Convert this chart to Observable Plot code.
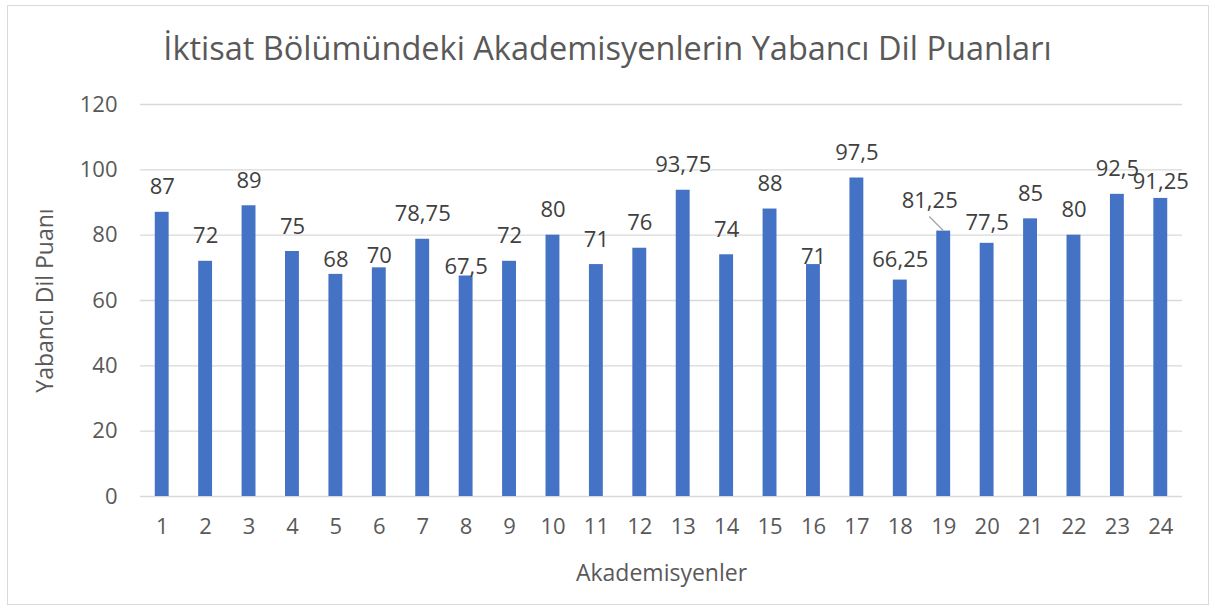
<!DOCTYPE html>
<html>
<head>
<meta charset="utf-8">
<script src="https://cdn.jsdelivr.net/npm/d3@7"></script>
<script src="https://cdn.jsdelivr.net/npm/@observablehq/plot@0.6"></script>
<style>
  body { margin: 0; background: #fff; font-family: "Open Sans", sans-serif; }
  #frame { position: absolute; left: 7px; top: 5px; width: 1202px; height: 600px; border: 1px solid #d9d9d9; box-sizing: border-box; }
  #title { position: absolute; left: 0; top: 26px; width: 1215px; text-align: center; font-size: 32.5px; line-height: 44px; color: #595959; }
  #chart { position: absolute; left: 0; top: 76px; }
</style>
</head>
<body>
<div id="frame"></div>
<div id="title">İktisat Bölümündeki Akademisyenlerin Yabancı Dil Puanları</div>
<div id="chart"></div>
<script>
const academics = ["1","2","3","4","5","6","7","8","9","10","11","12","13","14","15","16","17","18","19","20","21","22","23","24"];
const scores = [87, 72, 89, 75, 68, 70, 78.75, 67.5, 72, 80, 71, 76, 93.75, 74, 88, 71, 97.5, 66.25, 81.25, 77.5, 85, 80, 92.5, 91.25];
const yTicks = [0, 20, 40, 60, 80, 100, 120];

const data = academics.map((a, i) => ({a, v: scores[i], label: String(scores[i]).replace(".", ",")}));

// label placement (as Excel auto-arranged them): pixel gap between label centre and bar top
const defaultGap = 25;
const gapFor = {"5": 14, "6": 12, "8": 9, "16": 8, "18": 20, "19": 30, "20": 20, "24": 16};
const dxFor = {"19": -14};
const groups = d3.groups(data, d => `${gapFor[d.a] ?? defaultGap}|${dxFor[d.a] ?? 0}`);
const labelMarks = groups.map(([key, rows]) => {
  const [gap, dx] = key.split("|").map(Number);
  return Plot.text(rows, {x: "a", y: "v", text: "label", lineAnchor: "middle", dy: -gap, dx, fill: "#404040", fontSize: 22});
});

const leader = (index, scales) => {
  const x = scales.x, y = scales.y;
  const bw = x.bandwidth ? x.bandwidth() : 0;
  const d = data.find(d => d.a === "19");
  const cx = x(d.a) + bw / 2;
  const g = document.createElementNS("http://www.w3.org/2000/svg", "line");
  g.setAttribute("x1", cx - 14);
  g.setAttribute("y1", y(d.v) - 14);
  g.setAttribute("x2", cx);
  g.setAttribute("y2", y(d.v));
  g.setAttribute("stroke", "#a6a6a6");
  g.setAttribute("stroke-width", 1.3);
  return g;
};

const chart = Plot.plot({
  width: 1215,
  height: 524,
  marginTop: 28,
  marginBottom: 104,
  marginLeft: 140,
  marginRight: 33,
  style: {fontFamily: "Open Sans, sans-serif", fontSize: "22px", color: "#595959", background: "transparent", overflow: "visible"},
  x: {domain: academics, paddingInner: 0.68, paddingOuter: 0.34, round: false, label: "Akademisyenler"},
  y: {domain: [0, 120], ticks: yTicks, label: "Yabancı Dil Puanı"},
  marks: [
    Plot.gridY(yTicks, {stroke: "#d9d9d9", strokeOpacity: 1, strokeWidth: 1.3}),
    Plot.axisY(yTicks, {tickSize: 0, tickPadding: 23, fontSize: 22, label: null}),
    Plot.axisY(yTicks, {tickSize: 0, text: null, label: "Yabancı Dil Puanı", labelArrow: "none", labelAnchor: "center", labelOffset: 104, fontSize: 23}),
    Plot.axisX({tickSize: 0, tickPadding: 22, fontSize: 22, label: null}),
    Plot.axisX({tickSize: 0, text: null, label: "Akademisyenler", labelAnchor: "center", labelArrow: "none", labelOffset: 84, fontSize: 23}),
    Plot.barY(data, {x: "a", y: "v", fill: "#4472c4"}),
    ...labelMarks,
    leader
  ]
});
document.getElementById("chart").appendChild(chart);
</script>
</body>
</html>
